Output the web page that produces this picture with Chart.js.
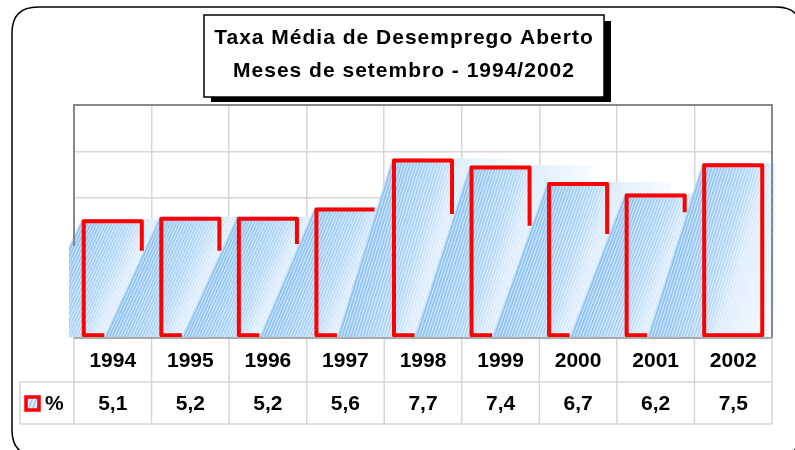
<!DOCTYPE html>
<html>
<head>
<meta charset="utf-8">
<script src="https://cdn.jsdelivr.net/npm/chart.js@4.4.0/dist/chart.umd.min.js"></script>
<style>
html, body { margin: 0; padding: 0; background: #fff; }
</style>
</head>
<body>
<canvas id="myChart" width="795" height="450"></canvas>
<script>
var years = ['1994', '1995', '1996', '1997', '1998', '1999', '2000', '2001', '2002'];
var rates = [5.1, 5.2, 5.2, 5.6, 7.7, 7.4, 6.7, 6.2, 7.5];
var titleLines = ['Taxa Média de Desemprego Aberto', 'Meses de setembro - 1994/2002'];
var seriesLabel = '%';

var FONT = '"Liberation Sans", Arial, sans-serif';
var RED = '#ff0000';
var SHIFT = 55, BAND = 125;

// thin white stripes laid over the blue gradient
function makeStripes() {
    var c = document.createElement('canvas');
    c.width = 3; c.height = 3;
    var g = c.getContext('2d');
    g.fillStyle = 'rgba(255,255,255,0.6)';
    g.fillRect(0, 0, 1, 3);
    return g.createPattern(c, 'repeat');
}
var stripes = makeStripes();

// small hatch for the legend key
function makeHatch() {
    var c = document.createElement('canvas');
    c.width = 4; c.height = 10;
    var g = c.getContext('2d');
    g.fillStyle = '#dcecfc';
    g.fillRect(0, 0, 4, 10);
    g.strokeStyle = '#9ecbf4';
    g.lineWidth = 1.4;
    for (var k = -1; k <= 1; k++) {
        g.beginPath();
        g.moveTo(k * 4, 10);
        g.lineTo(k * 4 + 4, 0);
        g.stroke();
    }
    return g.createPattern(c, 'repeat');
}
var hatch = makeHatch();

// skewed band behind a bar, from (L-SHIFT, base)/(L, top) to BAND px further right
function drawSkewFill(ctx, bar) {
    var L = bar.x - bar.width / 2, top = bar.y, h = bar.base - bar.y;
    ctx.save();
    ctx.translate(L, top);
    ctx.transform(1, 0, -SHIFT / h, 1, 0, 0);
    var gr = ctx.createLinearGradient(0, 0, BAND, 0);
    gr.addColorStop(0, '#8ec3f3');
    gr.addColorStop(0.4, '#b3d7f8');
    gr.addColorStop(0.55, '#d9ebfc');
    gr.addColorStop(1, '#f6faff');
    ctx.fillStyle = gr;
    ctx.fillRect(0, 0, BAND, h);
    ctx.fillStyle = stripes;
    ctx.fillRect(0, 0, BAND, h);
    ctx.restore();
}

// red outline; where the next bar's band passes over it, the outline stops
function drawOutline(ctx, bar, next) {
    var L = bar.x - bar.width / 2 + 2, R = bar.x + bar.width / 2 - 2;
    var T = bar.y + 2, B = bar.base - 2;
    ctx.save();
    ctx.strokeStyle = RED;
    ctx.lineWidth = 4;
    ctx.lineJoin = 'round';
    ctx.beginPath();
    if (next) {
        var nL = next.x - next.width / 2, nh = next.base - next.y;
        var xCut = nL - SHIFT;                                  // band edge on the base line
        var yCut = next.base - (R + 2 - xCut) / SHIFT * nh;    // band edge on the right side
        ctx.moveTo(Math.max(xCut, L), B);
        ctx.lineTo(L, B);
        ctx.lineTo(L, T);
        ctx.lineTo(R, T);
        ctx.lineTo(R, Math.max(yCut, T));
    } else {
        ctx.rect(L, T, R - L, B - T);
    }
    ctx.stroke();
    ctx.restore();
}

var barsPlugin = {
    id: 'barsPlugin',
    afterDatasetsDraw: function (chart) {
        var ctx = chart.ctx;
        var a = chart.chartArea;
        var bars = chart.getDatasetMeta(0).data;
        ctx.save();
        ctx.beginPath();
        ctx.rect(a.left - 5, 0, a.right - a.left + 8, a.bottom);
        ctx.clip();
        for (var i = 0; i < bars.length; i++) {
            drawSkewFill(ctx, bars[i]);
        }
        for (var j = 0; j < bars.length; j++) {
            drawOutline(ctx, bars[j], bars[j + 1]);
        }
        ctx.restore();
    }
};

var decorations = {
    id: 'decorations',
    beforeDraw: function (chart) {
        var ctx = chart.ctx;
        ctx.save();
        ctx.fillStyle = '#fff';
        ctx.fillRect(0, 0, chart.width, chart.height);

        // rounded outer frame (runs off the right and bottom edges)
        ctx.strokeStyle = '#000';
        ctx.lineWidth = 1.5;
        var x0 = 12, y0 = 7, x1 = 802, y1 = 456, r = 26;
        ctx.beginPath();
        ctx.moveTo(x0 + r, y0);
        ctx.lineTo(x1 - r, y0);
        ctx.quadraticCurveTo(x1, y0, x1, y0 + r);
        ctx.lineTo(x1, y1 - r);
        ctx.quadraticCurveTo(x1, y1, x1 - r, y1);
        ctx.lineTo(x0 + r, y1);
        ctx.quadraticCurveTo(x0, y1, x0, y1 - r);
        ctx.lineTo(x0, y0 + r);
        ctx.quadraticCurveTo(x0, y0, x0 + r, y0);
        ctx.stroke();

        // title box with shadow
        ctx.fillStyle = '#000';
        ctx.fillRect(211, 21, 400, 81);
        ctx.fillStyle = '#fff';
        ctx.fillRect(204, 15, 400, 82);
        ctx.lineWidth = 1.5;
        ctx.strokeRect(204, 15, 400, 82);
        ctx.fillStyle = '#000';
        ctx.font = 'bold 21px ' + FONT;
        ctx.letterSpacing = '1px';
        ctx.textAlign = 'center';
        ctx.textBaseline = 'middle';
        ctx.fillText(titleLines[0], 404, 38);
        ctx.fillText(titleLines[1], 404, 71);
        ctx.restore();
    },
    afterDraw: function (chart) {
        var ctx = chart.ctx;
        var a = chart.chartArea;
        var xs = chart.scales.x;
        var n = years.length;
        var step = (a.right - a.left) / n;
        var row1 = a.bottom + 44, row2 = a.bottom + 86, legLeft = 20;
        ctx.save();

        // table grid
        ctx.strokeStyle = '#d6d6d6';
        ctx.lineWidth = 1.5;
        ctx.beginPath();
        for (var i = 0; i <= n; i++) {
            var gx = a.left + i * step;
            ctx.moveTo(gx, a.bottom);
            ctx.lineTo(gx, row2);
        }
        ctx.moveTo(legLeft, row1); ctx.lineTo(a.right, row1);
        ctx.moveTo(legLeft, row2); ctx.lineTo(a.right, row2);
        ctx.moveTo(legLeft, row1); ctx.lineTo(legLeft, row2);
        ctx.stroke();

        // plot border
        ctx.strokeStyle = '#888';
        ctx.lineWidth = 2;
        ctx.beginPath();
        ctx.moveTo(a.left, a.bottom - 92);
        ctx.lineTo(a.left, a.top);
        ctx.lineTo(a.right, a.top);
        ctx.lineTo(a.right, a.bottom);
        ctx.stroke();
        ctx.strokeStyle = '#aaa';
        ctx.beginPath();
        ctx.moveTo(a.left, a.bottom);
        ctx.lineTo(a.right, a.bottom);
        ctx.stroke();

        // values row
        ctx.fillStyle = '#000';
        ctx.font = 'bold 21px ' + FONT;
        ctx.textAlign = 'center';
        ctx.textBaseline = 'middle';
        var mid = (row1 + row2) / 2;
        rates.forEach(function (v, i) {
            ctx.fillText(v.toFixed(1).replace('.', ','), xs.getPixelForValue(i), mid + 1);
        });

        // legend key
        ctx.fillStyle = hatch;
        ctx.fillRect(26, mid - 6, 13, 13);
        ctx.strokeStyle = RED;
        ctx.lineWidth = 3.5;
        ctx.strokeRect(26, mid - 6, 13, 13);
        ctx.fillStyle = '#000';
        ctx.textAlign = 'left';
        ctx.fillText(seriesLabel, 45, mid + 1);
        ctx.restore();
    }
};

var ctx = document.getElementById('myChart').getContext('2d');
var chart = new Chart(ctx, {
    type: 'bar',
    data: {
        labels: years,
        datasets: [{
            label: seriesLabel,
            data: rates,
            backgroundColor: 'rgba(0,0,0,0)',
            borderWidth: 0,
            categoryPercentage: 1,
            barPercentage: 0.8
        }]
    },
    options: {
        responsive: false,
        animation: false,
        devicePixelRatio: 1,
        layout: { padding: { left: 74, right: 23, top: 105, bottom: 0 } },
        plugins: {
            legend: { display: false },
            title: { display: false },
            tooltip: { enabled: false }
        },
        scales: {
            x: {
                afterFit: function (s) { s.height = 112; },
                grid: { color: '#d6d6d6', lineWidth: 1.5, drawTicks: false, offset: true },
                border: { display: false },
                ticks: { color: '#000', padding: 11, font: { family: FONT, size: 21, weight: 'bold' } }
            },
            y: {
                min: 0,
                max: 10,
                afterFit: function (s) { s.width = 0; },
                grid: { color: '#d6d6d6', lineWidth: 1.5, drawTicks: false },
                border: { display: false },
                ticks: { display: false, stepSize: 2 }
            }
        }
    },
    plugins: [barsPlugin, decorations]
});
</script>
</body>
</html>
